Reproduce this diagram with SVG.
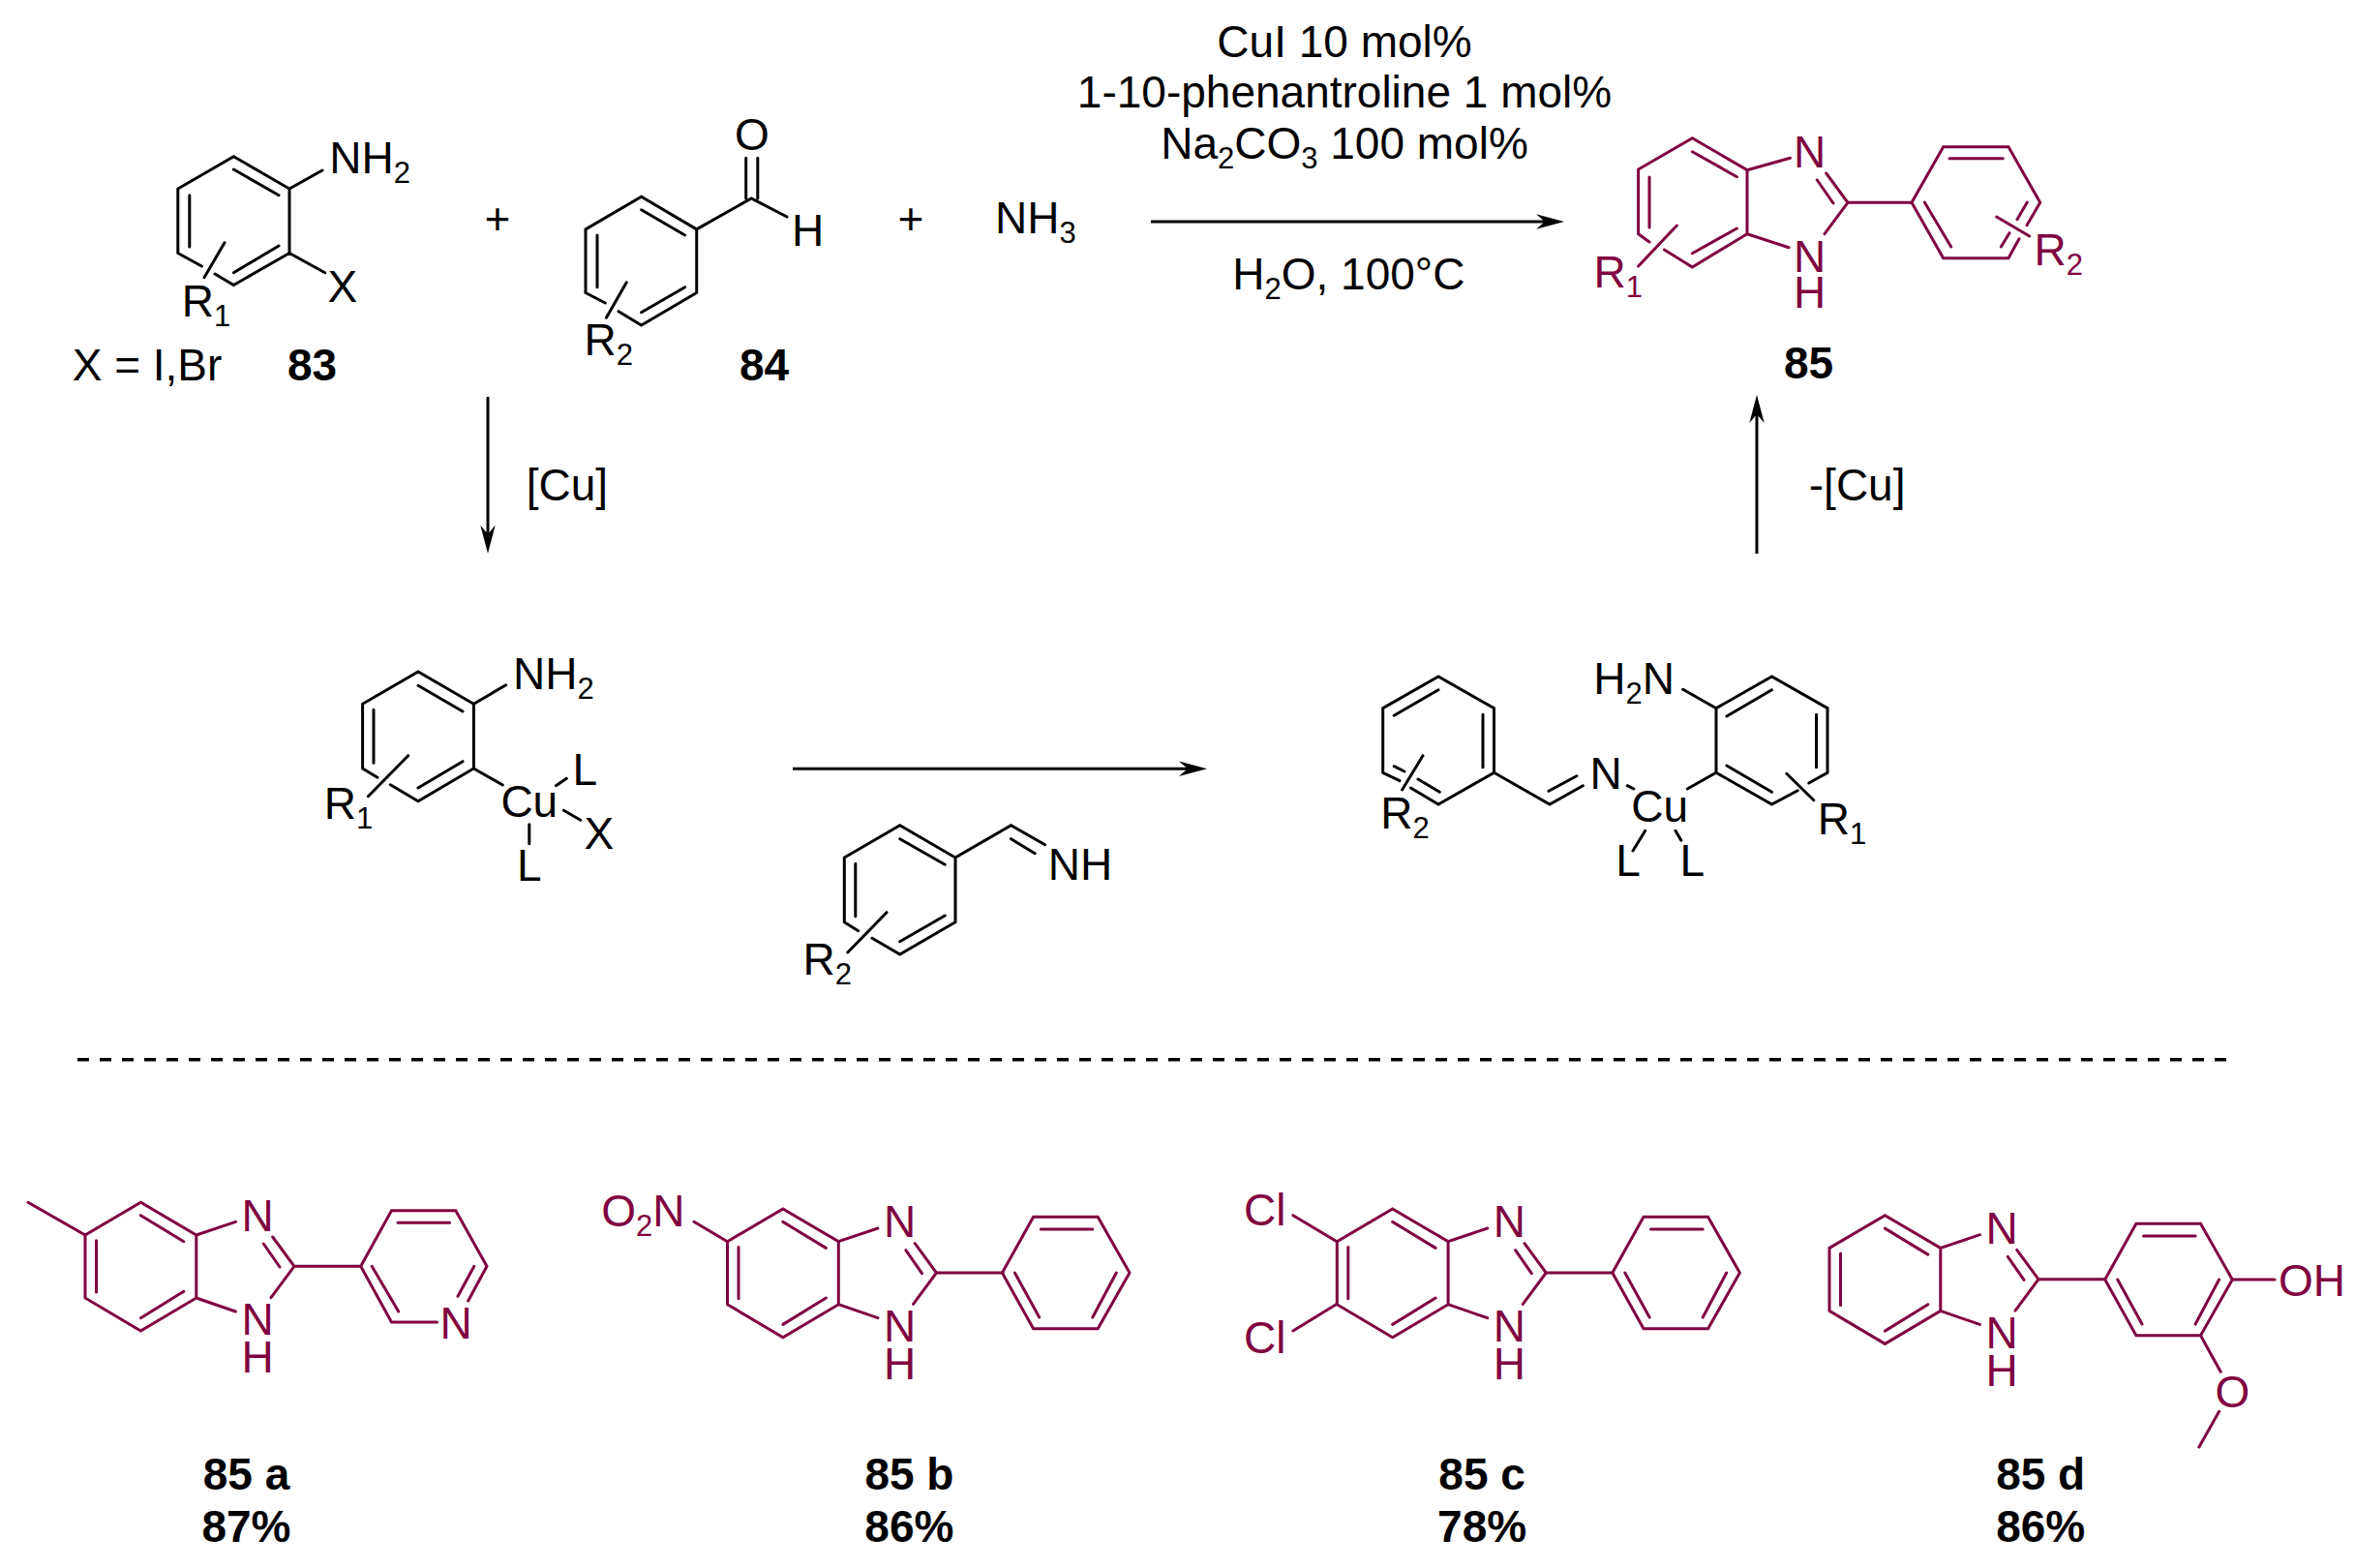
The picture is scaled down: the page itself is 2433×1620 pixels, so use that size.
<svg xmlns="http://www.w3.org/2000/svg" xmlns:xlink="http://www.w3.org/1999/xlink" width="2433" height="1620" viewBox="0 0 2433 1620">
<style>
text{font-family:"Liberation Sans",Arial,sans-serif;font-size:46px;fill:#000}
.s{font-size:31px}
.l{font-weight:bold}
.m{text-anchor:middle}
.b{fill:none;stroke:#000;stroke-width:3;stroke-linecap:round;stroke-linejoin:miter}
.p .b,.b.pb{stroke:#7f0040}
.p text{fill:#7f0040}
.a{fill:none;stroke:#000;stroke-width:3}
</style>
<defs>
<marker id="head" markerUnits="userSpaceOnUse" viewBox="0 -8 29 16" refX="19" refY="0" markerWidth="29" markerHeight="16" orient="auto"><path d="M29 0L0 -7.7L9 0L0 7.7Z" fill="#000"/></marker>
<path id="core" class="b pb" d="M88 1276L145.4 1242.3L202.8 1276V1341L145.4 1375L88 1341ZM145.4 1255.7L189.8 1282.7M99.5 1281.7V1335M145.4 1361.7L189.8 1334.3M202.8 1276L243.4 1262.3M202.8 1341L243.4 1355M281.7 1278L304 1308.3L280 1340.7M272.3 1285L289 1309M304 1308.3H372.7"/>
<path id="ph" class="b pb" d="M1035.4 1315L1067.6 1257.3H1134.2L1167 1315L1134.2 1372.7H1067.6ZM1075.2 1270H1128.8M1048.4 1315L1073.7 1361M1153.3 1315L1128.8 1361"/>
</defs>
<g id="connectors">
<path class="a" marker-end="url(#head)" d="M1189 229H1606"/>
<path class="a" marker-end="url(#head)" d="M504 410V561.7"/>
<path class="a" marker-end="url(#head)" d="M1815 572V418"/>
<path class="a" marker-end="url(#head)" d="M819 794.3H1237"/>
<path id="divider" fill="none" stroke="#000" stroke-width="3.4" stroke-dasharray="12 11" d="M80 1094.7H2311"/>
</g>
<g id="node-83">
<path class="b" d="M183.8 261.5V195L241.4 161.7L299 195V261.5L241.4 294.5L222 283M183.8 261.5L208.4 275M241.4 175L288 201.7M195.8 201.7V255M241.4 281.7L288 254M299 195L333 176M299 261.5L335.7 281.7M232 250.7L211 286.7"/>
<text x="340.3" y="179.3">NH<tspan class="s" dy="10">2</tspan></text>
<text x="338.5" y="312">X</text>
<text x="187.8" y="326.7">R<tspan class="s" dy="10">1</tspan></text>
<text x="74.7" y="392.7">X = I,Br</text>
<text class="l" x="297" y="392.7">83</text>
</g>
<text id="plus-1" class="m" x="514" y="242">+</text>
<g id="node-84">
<path class="b" d="M605 302.5V236.9L662.6 203.3L719.7 236.9V302.5L662.6 336L639 321.7M605 302.5L625.3 313M662.6 216.7L707.6 243M617 243V296.7M662.6 322.7L707.6 296.7M719.7 236.9L776.2 205L813 224M770.7 205V163.3M782.8 205V163.3M647.3 291.7L626.4 328.3"/>
<text class="m" x="776.8" y="155">O</text>
<text x="818" y="254">H</text>
<text x="603.5" y="366.7">R<tspan class="s" dy="10">2</tspan></text>
<text class="l" x="764" y="392.7">84</text>
</g>
<text id="plus-2" class="m" x="941" y="242">+</text>
<g id="node-nh3"><text x="1028" y="241">NH<tspan class="s" dy="10">3</tspan></text></g>
<g id="conditions">
<text class="m" x="1389" y="59">CuI 10 mol%</text>
<text class="m" x="1389" y="111">1-10-phenantroline 1 mol%</text>
<text class="m" x="1389" y="164.3">Na<tspan class="s" dy="10">2</tspan><tspan dy="-10">CO</tspan><tspan class="s" dy="10">3</tspan><tspan dy="-10"> 100 mol%</tspan></text>
<text class="m" x="1393.4" y="299.3">H<tspan class="s" dy="10">2</tspan><tspan dy="-10">O, 100°C</tspan></text>
</g>
<g id="node-85" class="p">
<path class="b" d="M1692.6 241.7V175L1748.4 142.7L1805 175.7V241.7L1748.4 276L1719.4 258M1692.6 241.7L1704 250M1748.4 156.7L1794.4 182.7M1704 183V235M1748.4 261.7L1794.4 236M1805 175.7L1849.5 163.3M1805 241.7L1848 255.7M1886.7 179L1909 209.3L1885 241.7M1877.3 186L1894 210M1909 209.3H1975L2007.7 151.7H2075L2107.7 209.3L2094 232.7M2086 246.7L2075 266.7H2007.7L1975 209.3M2014 163.7H2069.3M1988.3 209L2015.7 255M2094.3 209L2084 226.7M2076 240.7L2067.3 255M2062.7 224L2096.7 244M1732.4 233L1692.6 275"/>
<text x="1853" y="173.3">N</text>
<text x="1853" y="280.7">N</text>
<text x="1853" y="318.3">H</text>
<text x="1646.5" y="297.3">R<tspan class="s" dy="10">1</tspan></text>
<text x="2101.5" y="274">R<tspan class="s" dy="10">2</tspan></text>
</g>
<text id="label-85" class="l" x="1843" y="390.7">85</text>
<text id="cu-in" x="543.7" y="516.7">[Cu]</text>
<text id="cu-out" x="1868.8" y="516.7">-[Cu]</text>
<g id="node-cu-complex">
<path class="b" d="M374.6 794V727.3L432 694L489.4 727.3V794L432 827.7L403.3 810.7M374.6 794L390 803.3M432 708.3L478 735M386 733.3V788.3M432 814L478 786.7M489.4 727.3L522.7 707.7M489.4 794L519.3 811M585.3 804.3L574.4 811.7M582.4 837.3L599.7 847.3M546.8 851.7V871.7M421.7 780.7L380.4 822.7"/>
<text x="530" y="711.7">NH<tspan class="s" dy="10">2</tspan></text>
<text x="517.4" y="844.3">Cu</text>
<text x="591.5" y="811">L</text>
<text x="603.4" y="877.3">X</text>
<text x="534" y="910">L</text>
<text x="334.8" y="846">R<tspan class="s" dy="10">1</tspan></text>
</g>
<g id="node-imine">
<path class="b" d="M872.3 952.7V886L929.7 852.7L987 886V952.7L929.7 986L901 969.3M872.3 952.7L886.7 961.7M929.7 866.7L976.2 893.3M883.8 892.3V946.7M929.7 972.7L976.2 946M987 886L1044.5 852.7L1079.6 872.7M1044.5 866.7L1069.2 881.7M916 942.7L875.8 984"/>
<text x="1082.8" y="909.3">NH</text>
<text x="829.5" y="1007">R<tspan class="s" dy="10">2</tspan></text>
</g>
<g id="node-complex-2">
<path class="b" d="M1428.7 798.3V731.7L1486 699L1543.5 731.7V798.3L1486 831L1457.4 814M1428.7 798.3L1446 806.7M1440.2 739.3L1486 712.7M1532 738.3V792.7M1440.2 791.7L1451 797M1465 805L1487.3 818.3M1470 780.7L1448.6 816M1543.5 798.3L1601 831L1635.4 811.7M1600 817.3L1628.9 801.7M1681.3 811.7L1687.8 815M1699.7 858.3L1687 879M1731 858.3L1736.8 868.3M1773 798.3V731.7L1830.5 699L1888 731.7V798.3L1868.8 809M1857.3 816.7L1830.5 831L1773 798.3M1783.9 740L1830.5 712.7M1876.5 738.3V792.7M1783.9 791L1830.5 818.3M1773 731.7L1738.7 712.3M1773 798.3L1743.3 815M1845.8 799.3L1873.8 826.7"/>
<text x="1646.3" y="717.3">H<tspan class="s" dy="10">2</tspan><tspan dy="-10">N</tspan></text>
<text x="1642.5" y="815">N</text>
<text x="1685.3" y="849">Cu</text>
<text x="1669.2" y="905">L</text>
<text x="1735.5" y="905">L</text>
<text x="1426.2" y="855.7">R<tspan class="s" dy="10">2</tspan></text>
<text x="1877.8" y="862.3">R<tspan class="s" dy="10">1</tspan></text>
</g>
<g id="node-85a" class="p">
<use xlink:href="#core" href="#core"/>
<path class="b" d="M88 1276L29 1242.3M372.7 1308.3L404.5 1250.7H470.8L503 1308.3L483.7 1344M372.7 1308.3L404.5 1365.9H451.5M384.2 1308.3L411.7 1355M411 1263.3H464.5M489.8 1308.3L473 1339.3"/>
<text x="249.5" y="1271.7">N</text><text x="249.5" y="1379.3">N</text><text x="249.5" y="1418.3">H</text>
<text x="454.6" y="1383.3">N</text>
</g>
<g id="node-85b" class="p">
<use xlink:href="#core" href="#core" transform="translate(663.5 6.7)"/>
<use xlink:href="#ph" href="#ph"/>
<path class="b" d="M751.5 1282.7L717 1262.3"/>
<text x="913" y="1278.4">N</text><text x="913" y="1386">N</text><text x="913" y="1425">H</text>
<text x="621.2" y="1266.7">O<tspan class="s" dy="10">2</tspan><tspan dy="-10">N</tspan></text>
</g>
<g id="node-85c" class="p">
<use xlink:href="#core" href="#core" transform="translate(1293.3 6.7)"/>
<use xlink:href="#ph" href="#ph" transform="translate(630.4 0)"/>
<path class="b" d="M1381.1 1282.7L1335.9 1255.7M1381.1 1347.3L1335.9 1375"/>
<text x="1542.8" y="1278.4">N</text><text x="1542.8" y="1386">N</text><text x="1542.8" y="1425">H</text>
<text x="1285" y="1266">Cl</text><text x="1285" y="1398.3">Cl</text>
</g>
<g id="node-85d" class="p">
<use xlink:href="#core" href="#core" transform="translate(1802 13.4)"/>
<use xlink:href="#ph" href="#ph" transform="translate(1139.3 7)"/>
<path class="b" d="M2306.3 1322H2350.1M2273.5 1379.7L2294.2 1417.3M2292.6 1458.3L2271.9 1495"/>
<text x="2051.5" y="1285.1">N</text><text x="2051.5" y="1392.7">N</text><text x="2051.5" y="1431.7">H</text>
<text x="2354" y="1339">OH</text>
<text x="2288.5" y="1454">O</text>
</g>
<g id="labels">
<text class="l m" x="254.5" y="1539">85 a</text><text class="l m" x="254.5" y="1592.7">87%</text>
<text class="l m" x="939.4" y="1539">85 b</text><text class="l m" x="939.4" y="1592.7">86%</text>
<text class="l m" x="1531.1" y="1539">85 c</text><text class="l m" x="1531.1" y="1592.7">78%</text>
<text class="l m" x="2108.2" y="1539">85 d</text><text class="l m" x="2108.2" y="1592.7">86%</text>
</g>
</svg>
